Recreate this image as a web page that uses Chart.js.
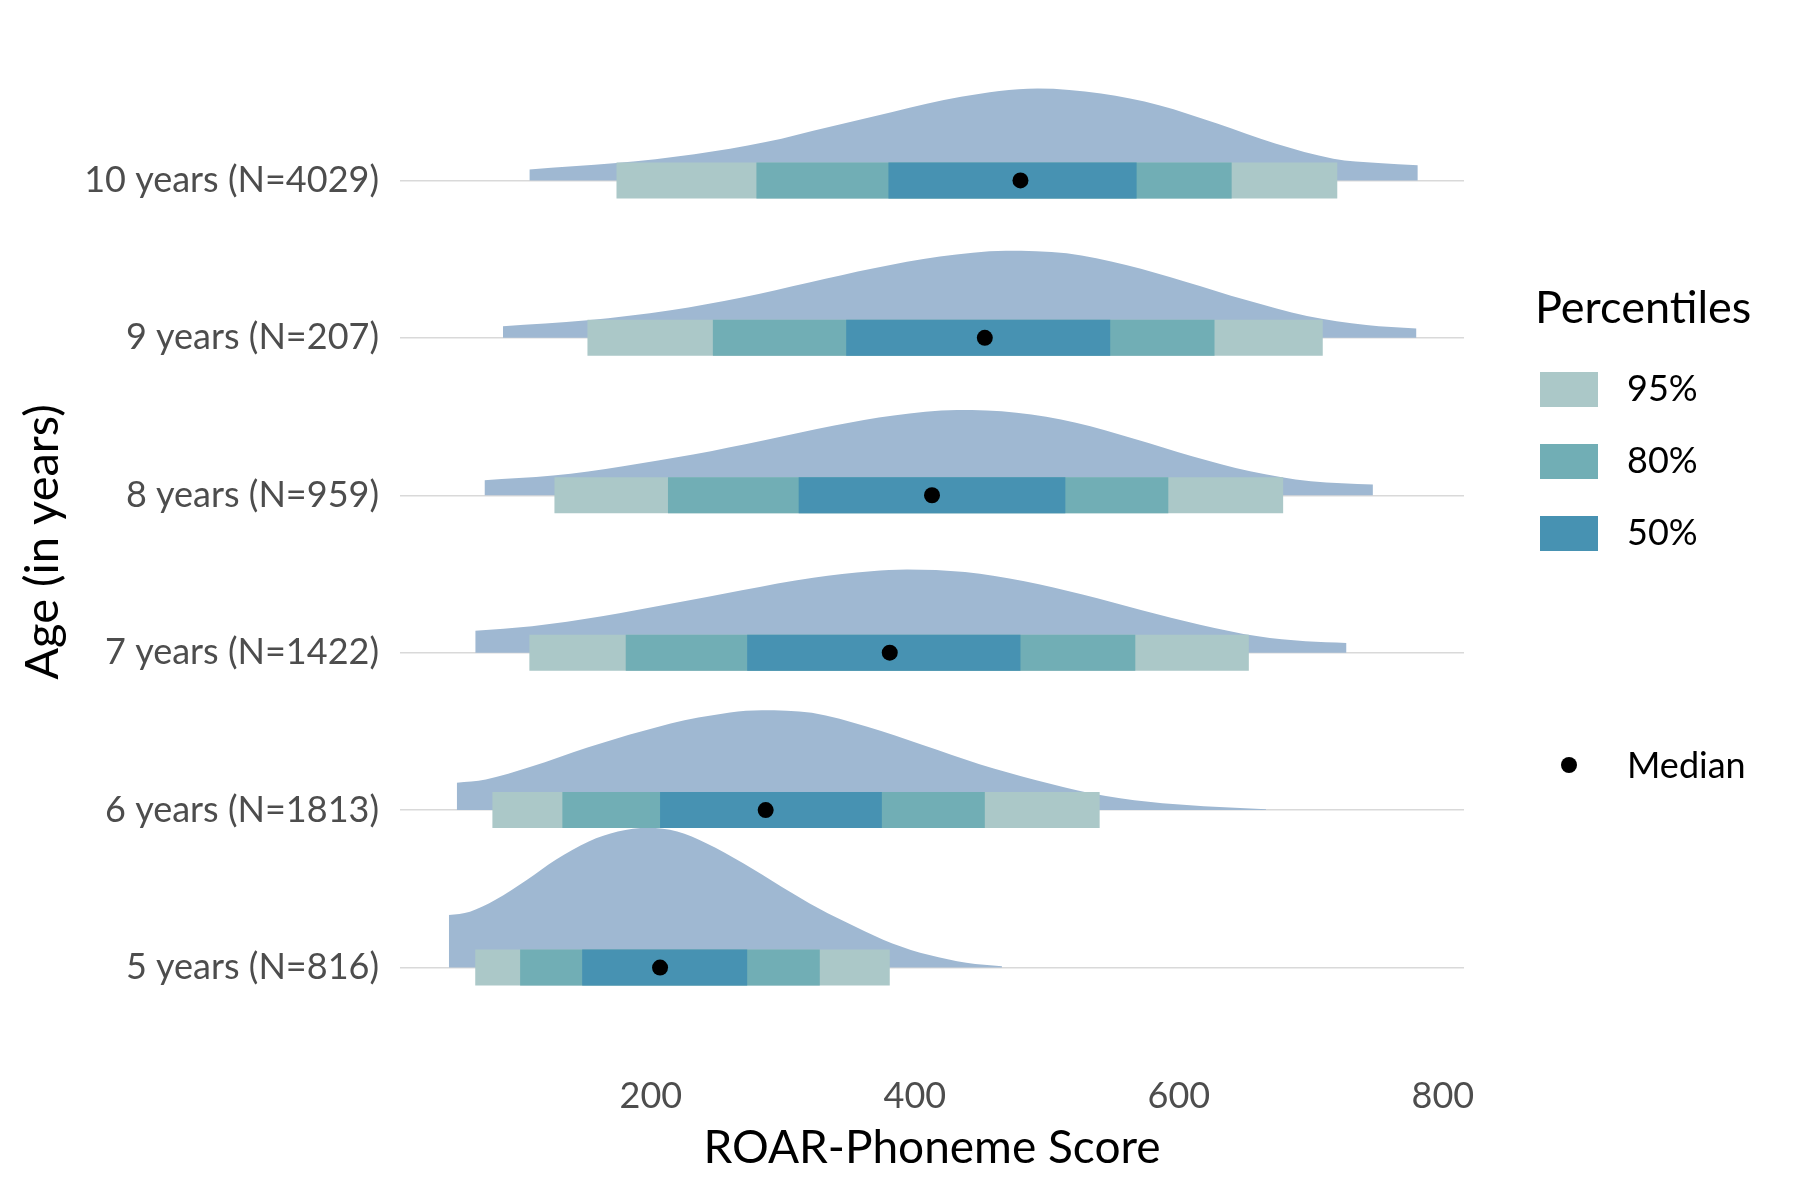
<!DOCTYPE html>
<html>
<head>
<meta charset="utf-8">
<title>ROAR-Phoneme Score by age</title>
<script src="https://cdn.jsdelivr.net/npm/chart.js@4.4.1/dist/chart.umd.min.js"></script>
<style>
    html, body { margin: 0; padding: 0; background: #ffffff; }
    #chart-wrap { width: 1800px; height: 1200px; }
</style>
</head>
<body>
<div id="chart-wrap"><canvas id="ridge-chart" width="1800" height="1200"></canvas></div>
<script>
// rows, bottom to top
const ageLabels = ['5 years (N=816)', '6 years (N=1813)', '7 years (N=1422)', '8 years (N=959)', '9 years (N=207)', '10 years (N=4029)'];
const xTicks = [200, 400, 600, 800];

// percentiles per row
const p025 = [67, 80, 108, 127, 152, 174];
const p10 = [101, 133, 181, 213, 247, 280];
const p25 = [148, 207, 273, 312, 348, 380];
const medians = [207, 287, 381, 413, 453, 480];
const p75 = [273, 375, 480, 514, 548, 568];
const p90 = [328, 453, 567, 592, 627, 640];
const p975 = [381, 540, 653, 679, 709, 720];

// density outlines: [score, height in rows]
const density5 = [[47, 0.333], [63, 0.355], [82, 0.429], [106, 0.556], [128, 0.684], [153, 0.801], [175, 0.864], [198, 0.888], [220, 0.864], [242, 0.790], [270, 0.662], [299, 0.514], [327, 0.376], [355, 0.259], [383, 0.153], [411, 0.079], [439, 0.030], [466, 0.008]];
const density6 = [[53, 0.174], [75, 0.195], [109, 0.275], [152, 0.398], [194, 0.503], [236, 0.588], [284, 0.635], [322, 0.618], [364, 0.529], [406, 0.413], [449, 0.292], [492, 0.190], [534, 0.106], [577, 0.053], [619, 0.025], [666, 0.006]];
const density7 = [[67, 0.140], [110, 0.168], [163, 0.231], [216, 0.312], [269, 0.397], [323, 0.476], [367, 0.518], [394, 0.529], [438, 0.512], [483, 0.454], [527, 0.370], [572, 0.270], [616, 0.178], [660, 0.104], [696, 0.072], [727, 0.062]];
const density8 = [[74, 0.096], [126, 0.125], [179, 0.185], [232, 0.259], [286, 0.350], [339, 0.444], [384, 0.507], [432, 0.541], [477, 0.524], [522, 0.461], [566, 0.359], [610, 0.248], [654, 0.153], [700, 0.089], [747, 0.068]];
const density9 = [[88, 0.074], [152, 0.112], [215, 0.176], [269, 0.257], [320, 0.352], [369, 0.442], [419, 0.516], [469, 0.554], [515, 0.537], [560, 0.463], [605, 0.357], [651, 0.240], [697, 0.138], [742, 0.081], [780, 0.059]];
const density10 = [[108, 0.070], [174, 0.110], [233, 0.166], [287, 0.244], [335, 0.340], [383, 0.435], [435, 0.531], [493, 0.584], [541, 0.552], [585, 0.478], [629, 0.361], [673, 0.234], [717, 0.138], [751, 0.110], [781, 0.096]];
const densities = [density5, density6, density7, density8, density9, density10];

const COLORS = {
    density: '#9fb8d2',
    p95: '#abc8c8',
    p80: '#71aeb5',
    p50: '#4792b2',
    grid: '#d9d9d9',
    tick: '#4d4d4d',
    text: '#000000'
};
const FONT = 'Lato';
const BAND_WIDTH = 36;

function bandData(lo, hi) {
    const pts = [];
    lo.forEach((v, i) => {
        pts.push({ x: v, y: i }, { x: hi[i], y: i }, { x: hi[i], y: null });
    });
    return pts;
}

const datasets = [];
densities.forEach((dens, row) => {
    datasets.push({
        type: 'line',
        data: dens.map(p => ({ x: p[0], y: row + p[1] })),
        backgroundColor: COLORS.density,
        borderWidth: 0,
        pointRadius: 0,
        tension: 0.4,
        cubicInterpolationMode: 'monotone',
        fill: { value: row },
        order: 10
    });
});
[[p025, p975, COLORS.p95, 3], [p10, p90, COLORS.p80, 2], [p25, p75, COLORS.p50, 1]].forEach(([lo, hi, color, order]) => {
    datasets.push({
        type: 'line',
        data: bandData(lo, hi),
        borderColor: color,
        borderWidth: BAND_WIDTH,
        borderCapStyle: 'butt',
        pointRadius: 0,
        fill: false,
        spanGaps: false,
        order: order
    });
});
datasets.push({
    type: 'scatter',
    data: medians.map((m, i) => ({ x: m, y: i })),
    pointRadius: 8,
    pointBackgroundColor: '#000000',
    pointBorderWidth: 0,
    order: 0
});

const titlesAndLegend = {
    id: 'titlesAndLegend',
    afterDraw(chart) {
        const ctx = chart.ctx;
        const area = chart.chartArea;
        ctx.save();
        ctx.fillStyle = COLORS.text;

        // axis titles
        ctx.font = `46px ${FONT}`;
        ctx.textAlign = 'center';
        ctx.textBaseline = 'middle';
        ctx.fillText('ROAR-Phoneme Score', (area.left + area.right) / 2, 1148);
        ctx.save();
        ctx.translate(43, 542);
        ctx.rotate(-Math.PI / 2);
        ctx.font = `47px ${FONT}`;
        ctx.fillText('Age (in years)', 0, 0);
        ctx.restore();

        // legend
        ctx.textAlign = 'left';
        ctx.textBaseline = 'alphabetic';
        ctx.font = `45px ${FONT}`;
        ctx.fillText('Percentiles', 1535, 323);

        const keys = [['95%', COLORS.p95, 372], ['80%', COLORS.p80, 444], ['50%', COLORS.p50, 516]];
        ctx.font = `36px ${FONT}`;
        ctx.textBaseline = 'middle';
        keys.forEach(([label, color, top]) => {
            ctx.fillStyle = color;
            ctx.fillRect(1540, top, 58, 35);
            ctx.fillStyle = COLORS.text;
            ctx.fillText(label, 1627, top + 17);
        });

        ctx.beginPath();
        ctx.arc(1569, 765, 8, 0, Math.PI * 2);
        ctx.fill();
        ctx.fillText('Median', 1627, 766);
        ctx.restore();
    }
};

new Chart(document.getElementById('ridge-chart'), {
    type: 'line',
    data: { datasets: datasets },
    options: {
        responsive: false,
        devicePixelRatio: 1,
        animation: false,
        layout: { padding: { left: 0, right: 336, top: 23, bottom: 0 } },
        plugins: {
            legend: { display: false },
            tooltip: { enabled: false }
        },
        scales: {
            x: {
                type: 'linear',
                min: 10,
                max: 816,
                afterBuildTicks: scale => { scale.ticks = xTicks.map(v => ({ value: v })); },
                afterFit: scale => { scale.height = 138; },
                grid: { display: false },
                border: { display: false },
                ticks: {
                    color: COLORS.tick,
                    font: { family: FONT, size: 36 },
                    padding: 5,
                    maxRotation: 0
                }
            },
            y: {
                type: 'linear',
                min: -0.6,
                max: 6.0,
                afterBuildTicks: scale => { scale.ticks = ageLabels.map((_, i) => ({ value: i })); },
                afterFit: scale => {
                    scale.width = 400;
                    // labels sit well inside the panel, so no extra room above or below
                    scale.paddingTop = 0;
                    scale.paddingBottom = 0;
                },
                grid: { color: COLORS.grid, lineWidth: 1.4, drawTicks: false },
                border: { display: false },
                ticks: {
                    color: COLORS.tick,
                    font: { family: FONT, size: 36 },
                    padding: 21,
                    callback: value => ageLabels[value] ?? ''
                }
            }
        }
    },
    plugins: [titlesAndLegend]
});
</script>
</body>
</html>
